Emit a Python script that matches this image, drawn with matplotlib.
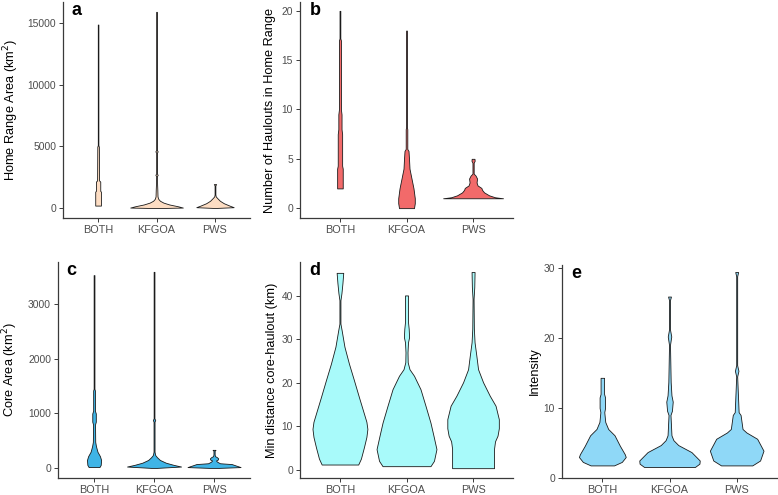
import numpy as np
import matplotlib.pyplot as plt

plt.rcParams['font.family'] = ['Liberation Sans', 'DejaVu Sans']

cats = ['BOTH', 'KFGOA', 'PWS']

# violin outlines: y values and relative half-widths
# a) home range area
a_both_y = [210, 1340, 1400, 2150, 2250, 4980, 5100, 14870]
a_both_d = [2.9, 2.9, 2.2, 2.2, 1.0, 0.8, 0.3, 0.3]
a_kfgoa_y = [10, 50, 150, 300, 450, 600, 750, 950, 1500, 1900, 2600, 2700, 2800, 4500, 4600, 4700, 15900]
a_kfgoa_d = [3, 26.7, 22, 13, 7, 3.5, 1.8, 1.0, 0.8, 0.6, 0.4, 1.2, 0.4, 0.4, 1.2, 0.4, 0.4]
a_pws_y = [20, 80, 200, 400, 600, 800, 950, 1100, 1850, 1950]
a_pws_d = [2, 19, 15, 9, 5, 2.5, 0.8, 0.4, 0.4, 1.2]

# b) number of haulouts
b_both_y = [2, 4, 4.3, 7.5, 8, 9.5, 10, 17, 17.2, 20]
b_both_d = [2.8, 2.8, 2.2, 2.2, 1.6, 1.6, 1.0, 1.0, 0.4, 0.4]
b_kfgoa_y = [0, 0.5, 1, 2, 3, 4, 5, 5.8, 6.0, 8, 8.2, 18]
b_kfgoa_d = [7.5, 8.3, 8.3, 7, 5, 3, 2.5, 2.0, 0.8, 0.8, 0.4, 0.4]
b_pws_y = [1.0, 1.1, 1.3, 1.6, 1.85, 2.05, 2.3, 2.6, 3.0, 3.3, 3.5, 4.6, 4.8, 5.0]
b_pws_d = [30, 22, 16, 11, 9, 8.3, 4.5, 3.5, 4.0, 2.5, 0.6, 0.6, 1.6, 1.4]

# c) core area
c_both_y = [20, 60, 150, 220, 300, 400, 480, 800, 850, 1000, 1050, 1420, 1450, 3530]
c_both_d = [5.5, 6.8, 7.2, 6, 3.5, 2, 1.2, 1.0, 1.8, 1.8, 0.9, 0.9, 0.4, 0.4]
c_kfgoa_y = [5, 30, 60, 100, 150, 200, 240, 300, 850, 880, 910, 3590]
c_kfgoa_d = [3, 27.5, 20, 12, 6, 3, 1.2, 0.5, 0.5, 1.2, 0.4, 0.4]
c_pws_y = [5, 20, 50, 75, 90, 120, 140, 160, 180, 200, 220, 250, 320, 335]
c_pws_d = [5, 27, 22, 18, 6, 3, 2, 4, 4.2, 3, 1.0, 0.6, 0.6, 1.5]

# d) min distance core-haulout
d_both_y = [1.15, 2.5, 5.1, 7.5, 9.35, 11, 12.9, 16.7, 20.6, 24.4, 28.3, 32.1, 33.6, 39.0, 40.6, 42.9, 45.3]
d_both_d = [18.3, 21, 24, 26.5, 27.5, 26.5, 24, 19, 14, 9, 4.5, 1.7, 0.5, 0.5, 1.5, 2.5, 3.3]
d_kfgoa_y = [0.77, 2, 4.7, 7.8, 10.8, 14.7, 18.5, 21.6, 23.1, 24.7, 27, 29.3, 30.5, 32.4, 34, 40.1]
d_kfgoa_d = [24, 27.5, 30, 27, 24, 19, 14, 7.5, 3, 1.2, 1.0, 1.5, 2.6, 2.2, 1.5, 1.5]
d_pws_y = [0.31, 4.8, 6.5, 7.8, 9.5, 11.6, 14.7, 17, 20.1, 23.1, 26.2, 29.3, 32.4, 39.3, 42, 45.5]
d_pws_d = [21, 21, 22, 24.5, 25.8, 25.8, 22.5, 16.7, 10, 5, 3.3, 1.5, 0.8, 0.5, 1.2, 1.5]

# e) intensity
e_both_y = [1.8, 2.3, 3.0, 3.4, 4.6, 6.1, 7.0, 8.0, 9.4, 10.0, 11.5, 12.0, 14.3]
e_both_d = [12, 20, 24, 23, 18, 12.5, 6, 3, 2, 2.8, 2.8, 1.8, 1.8]
e_kfgoa_y = [1.57, 2.05, 2.5, 3.7, 4.7, 5.4, 6.1, 9.0, 9.6, 10.9, 11.8, 13.7, 19.0, 20.2, 21.2, 25.4, 25.9]
e_kfgoa_d = [26, 30.7, 31, 22.5, 9, 4, 2, 1.0, 2.5, 3.3, 2.0, 1.2, 0.5, 1.8, 0.5, 0.5, 1.5]
e_pws_y = [1.8, 2.5, 3.9, 5.6, 6.5, 7.0, 8.0, 9.0, 9.4, 14.5, 15.3, 16.1, 28.8, 29.4]
e_pws_d = [16, 24, 27.5, 21, 10, 6, 5, 4, 2, 0.5, 1.8, 0.5, 0.5, 1.5]

panels = [
    ('a', r'Home Range Area (km$^{2}$)', [a_both_y, a_kfgoa_y, a_pws_y], [a_both_d, a_kfgoa_d, a_pws_d],
     '#FDDDC3', [0, 5000, 10000, 15000], (-795, 16700)),
    ('b', 'Number of Haulouts in Home Range', [b_both_y, b_kfgoa_y, b_pws_y], [b_both_d, b_kfgoa_d, b_pws_d],
     '#F26A6A', [0, 5, 10, 15, 20], (-1, 20.9)),
    ('c', r'Core Area (km$^{2}$)', [c_both_y, c_kfgoa_y, c_pws_y], [c_both_d, c_kfgoa_d, c_pws_d],
     '#3FB4E6', [0, 1000, 2000, 3000], (-180, 3770)),
    ('d', 'Min distance core-haulout (km)', [d_both_y, d_kfgoa_y, d_pws_y], [d_both_d, d_kfgoa_d, d_pws_d],
     '#A8FAFA', [0, 10, 20, 30, 40], (-1.96, 47.8)),
    ('e', 'Intensity', [e_both_y, e_kfgoa_y, e_pws_y], [e_both_d, e_kfgoa_d, e_pws_d],
     '#8FD8F7', [0, 10, 20, 30], (0, 30.4)),
]

boxes = [
    [0.081, 0.5596, 0.2404, 0.4364],
    [0.3856, 0.5596, 0.2738, 0.4364],
    [0.0746, 0.0343, 0.2468, 0.4364],
    [0.3856, 0.0343, 0.2738, 0.4364],
    [0.7224, 0.0343, 0.2763, 0.4303],
]
label_x = [-0.222, -0.112, -0.197, -0.102, -0.097]

fig = plt.figure(figsize=(7.78, 4.95), dpi=100)

for (letter, ylab, ys, ds, col, yt, ylim), box, lx in zip(panels, boxes, label_x):
    ax = fig.add_axes(box)
    dmax = max(max(d) for d in ds)
    for i, (y, d) in enumerate(zip(ys, ds)):
        hw = np.array(d) / dmax * 0.45
        ax.fill_betweenx(y, i + 1 - hw, i + 1 + hw, facecolor=col,
                         edgecolor='#1a1a1a', linewidth=0.6)
    ax.set_xlim(0.4, 3.6)
    ax.set_ylim(*ylim)
    ax.set_xticks([1, 2, 3])
    ax.set_xticklabels(cats)
    ax.set_yticks(yt)
    for s in ['top', 'right']:
        ax.spines[s].set_visible(False)
    for s in ['left', 'bottom']:
        ax.spines[s].set_color('#3a3a3a')
        ax.spines[s].set_linewidth(0.9)
    ax.tick_params(length=3, width=0.7, color='#3a3a3a', labelsize=7.4,
                   labelcolor='#4D4D4D', pad=2)
    ax.tick_params(axis='x', labelsize=7.8)
    ax.set_ylabel(ylab, fontsize=9.2)
    ax.yaxis.set_label_coords(lx, 0.5)
    ax.text(0.045, 1.0, letter, transform=ax.transAxes, fontsize=13,
            fontweight='bold', va='top', ha='left')

fig.savefig('out.png', dpi=100)
